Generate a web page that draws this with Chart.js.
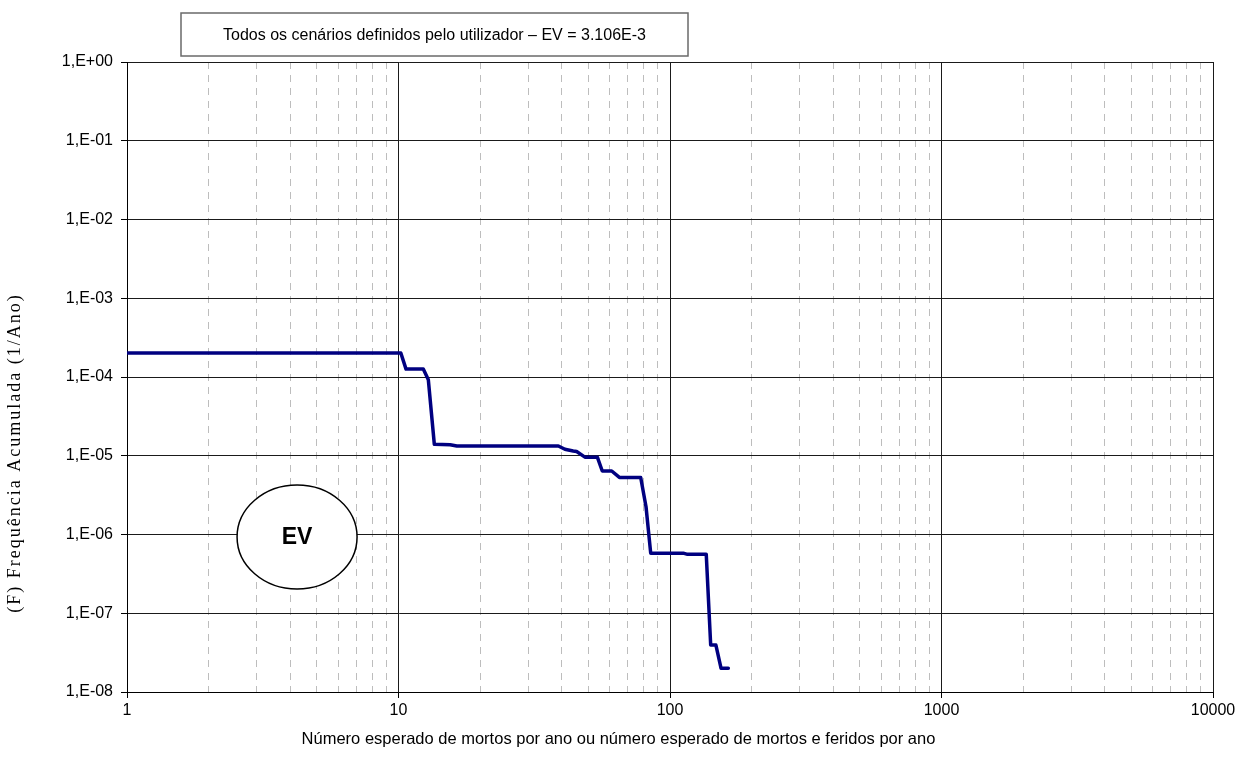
<!DOCTYPE html>
<html>
<head>
<meta charset="utf-8">
<script src="https://cdn.jsdelivr.net/npm/chart.js@4/dist/chart.umd.min.js"></script>
<style>
  html, body { margin: 0; padding: 0; background: #ffffff; }
  canvas { display: block; }
</style>
</head>
<body>
<canvas id="fn" width="1237" height="758"></canvas>
<script>
// Curva F-N: número esperado de mortos (x) e frequência acumulada (y)
const numeroMortos = [1, 10.2, 10.66, 12.34, 12.88, 13.55, 15.5, 16.4, 38.8, 41.0, 44.0, 45.3, 48.6, 54.0,
  56.3, 61.0, 65.1, 78.0, 81.6, 84.9, 111.9, 116, 136, 141.2, 147.6, 154.2, 164];
const frequenciaAcumulada = [2.02e-4, 2.02e-4, 1.26e-4, 1.26e-4, 9.2e-5, 1.40e-5, 1.38e-5, 1.33e-5, 1.33e-5,
  1.21e-5, 1.15e-5, 1.13e-5, 9.6e-6, 9.6e-6, 6.4e-6, 6.4e-6, 5.3e-6, 5.3e-6, 2.25e-6, 5.8e-7, 5.8e-7,
  5.6e-7, 5.6e-7, 3.95e-8, 3.95e-8, 2.0e-8, 2.0e-8];

// Marcas do eixo X (décadas e subdivisões)
const xTickValues = [1, 2, 3, 4, 5, 6, 7, 8, 9,
  10, 20, 30, 40, 50, 60, 70, 80, 90,
  100, 200, 300, 400, 500, 600, 700, 800, 900,
  1000, 2000, 3000, 4000, 5000, 6000, 7000, 8000, 9000, 10000];
const xMajorValues = [1, 10, 100, 1000, 10000];
const xTickLabels = ['1', '10', '100', '1000', '10000'];

// Marcas do eixo Y
const yTickValues = [1, 1e-1, 1e-2, 1e-3, 1e-4, 1e-5, 1e-6, 1e-7, 1e-8];
const yTickLabels = ['1,E+00', '1,E-01', '1,E-02', '1,E-03', '1,E-04', '1,E-05', '1,E-06', '1,E-07', '1,E-08'];

// Textos
const tituloCaixa = 'Todos os cenários definidos pelo utilizador – EV = 3.106E-3';
const tituloX = 'Número esperado de mortos por ano ou número esperado de mortos e feridos por ano';
const tituloY = '(F) Frequência Acumulada (1/Ano)';
const rotuloEV = 'EV';

const SANS = '"Liberation Sans", Arial, sans-serif';
const SERIF = '"Liberation Serif", "Times New Roman", serif';

const isMajorX = (tick) => !!tick && xMajorValues.indexOf(tick.value) >= 0;

const pontos = numeroMortos.map((x, i) => ({ x: x, y: frequenciaAcumulada[i] }));

// Caixa do título, elipse "EV" e títulos dos eixos
const anotacoes = {
  id: 'anotacoes',
  afterDraw(chart) {
    const ctx = chart.ctx;
    const a = chart.chartArea;
    ctx.save();

    // caixa do título
    const bx = 181, by = 13, bw = 507, bh = 43;
    ctx.fillStyle = '#ffffff';
    ctx.fillRect(bx, by, bw, bh);
    ctx.strokeStyle = '#6a6a6a';
    ctx.lineWidth = 1.5;
    ctx.strokeRect(bx, by, bw, bh);
    ctx.fillStyle = '#000000';
    ctx.font = '16px ' + SANS;
    ctx.textAlign = 'center';
    ctx.textBaseline = 'middle';
    ctx.fillText(tituloCaixa, bx + bw / 2, by + bh / 2 + 1);

    // elipse EV
    const ex = a.left + (a.right - a.left) * 0.1566;
    const ey = a.top + (a.bottom - a.top) * 0.7540;
    ctx.beginPath();
    ctx.ellipse(ex, ey, 60, 52, 0, 0, Math.PI * 2);
    ctx.fillStyle = '#ffffff';
    ctx.fill();
    ctx.strokeStyle = '#000000';
    ctx.lineWidth = 1.5;
    ctx.stroke();
    ctx.fillStyle = '#000000';
    ctx.font = 'bold 23px ' + SANS;
    ctx.fillText(rotuloEV, ex, ey + 1);

    // título do eixo X
    ctx.font = '16.5px ' + SANS;
    ctx.fillText(tituloX, chart.width / 2, 739);

    // título do eixo Y
    ctx.translate(15, 453);
    ctx.rotate(-Math.PI / 2);
    ctx.font = '18px ' + SERIF;
    if ('letterSpacing' in ctx) ctx.letterSpacing = '2px';
    ctx.fillText(tituloY, 0, 0);
    ctx.restore();
  }
};

new Chart(document.getElementById('fn'), {
  type: 'line',
  data: {
    datasets: [{
      data: pontos,
      borderColor: '#000080',
      borderWidth: 3.5,
      pointRadius: 0,
      tension: 0,
      borderJoinStyle: 'round',
      borderCapStyle: 'round',
      fill: false
    }]
  },
  options: {
    responsive: false,
    animation: false,
    devicePixelRatio: 1,
    layout: { padding: { top: 62, right: 24, left: 0, bottom: 0 } },
    plugins: { legend: { display: false }, tooltip: { enabled: false }, title: { display: false } },
    scales: {
      x: {
        type: 'logarithmic',
        position: 'bottom',
        min: 1,
        max: 10000,
        afterBuildTicks: (s) => { s.ticks = xTickValues.map(v => ({ value: v, major: xMajorValues.indexOf(v) >= 0 })); },
        afterFit: (s) => { s.height = 66; s.paddingLeft = 0; s.paddingRight = 0; },
        ticks: {
          autoSkip: false,
          maxRotation: 0,
          minRotation: 0,
          padding: 3,
          color: '#000000',
          font: { family: SANS, size: 16 },
          callback: (v) => { const i = xMajorValues.indexOf(v); return i >= 0 ? xTickLabels[i] : ''; }
        },
        grid: {
          color: (c) => isMajorX(c.tick) ? '#1a1a1a' : '#bdbdbd',
          lineWidth: 1,
          drawTicks: true,
          tickLength: 6,
          tickColor: (c) => isMajorX(c.tick) ? '#000000' : 'rgba(0,0,0,0)'
        },
        border: {
          display: true,
          color: '#000000',
          width: 1,
          dash: (c) => (c.tick && !isMajorX(c.tick)) ? [7, 6] : []
        }
      },
      y: {
        type: 'logarithmic',
        position: 'left',
        min: 1e-8,
        max: 1,
        afterBuildTicks: (s) => { s.ticks = yTickValues.map(v => ({ value: v, major: true })); },
        afterFit: (s) => { s.width = 127; },
        ticks: {
          autoSkip: false,
          padding: 8,
          color: '#000000',
          font: { family: SANS, size: 16 },
          callback: (v) => { const i = yTickValues.indexOf(v); return i >= 0 ? yTickLabels[i] : ''; }
        },
        grid: {
          color: '#1a1a1a',
          lineWidth: 1,
          drawTicks: true,
          tickLength: 6,
          tickColor: '#000000'
        },
        border: { display: true, color: '#000000', width: 1 }
      }
    }
  },
  plugins: [anotacoes]
});
</script>
</body>
</html>
